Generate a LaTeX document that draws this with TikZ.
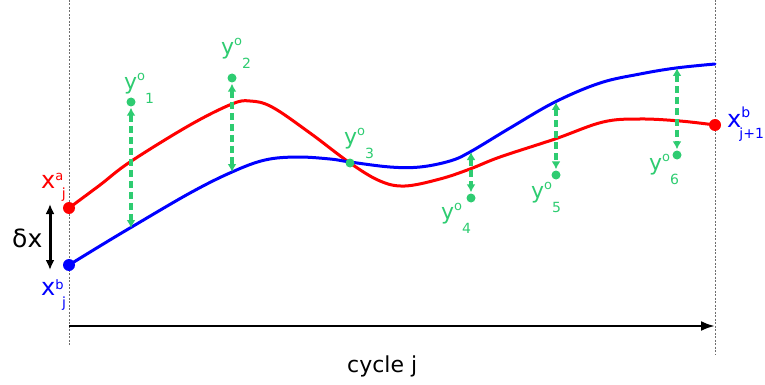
\documentclass[tikz,border=0pt]{standalone}
\usepackage{fontspec}
\setmainfont{DejaVu Sans}
\usetikzlibrary{arrows.meta}
\definecolor{obsgreen}{RGB}{46,204,113}
\definecolor{fgred}{RGB}{255,0,0}
\definecolor{bgblue}{RGB}{0,0,255}
\definecolor{guidegray}{RGB}{110,110,110}
\newcommand{\myfs}[1]{\fontsize{#1}{#1}\selectfont}
\newcommand{\yobs}[1]{{\myfs{22}y}\raisebox{9pt}{\myfs{13}o}\raisebox{-14pt}{\myfs{14}#1}}
\begin{document}
\begin{tikzpicture}[x=1pt,y=-1pt,
  guide/.style={draw=guidegray, line width=0.9pt, dash pattern=on 2pt off 1.5pt},
  timeaxis/.style={draw=black, line width=2.6pt, -{Latex[length=14pt,width=10pt]}},
  deltaarrow/.style={draw=black, line width=3pt, {Latex[length=10pt,width=9pt]}-{Latex[length=10pt,width=9pt]}},
  obsarrow/.style={draw=obsgreen, line width=3.6pt, dash pattern=on 7pt off 4pt,
    {Latex[length=8pt,width=9pt]}-{Latex[length=8pt,width=9pt]}},
  enddot/.style={circle, inner sep=0pt, minimum size=12pt},
  obsdot/.style={circle, fill=obsgreen, inner sep=0pt, minimum size=9pt},
  curve/.style={line width=3pt, line cap=round, line join=round},
  lab/.style={inner sep=0pt, anchor=base west},
]
\useasboundingbox (0,0) rectangle (765,385);

% guide lines
\coordinate (gLt) at (69,0);
\coordinate (gLb) at (69,345);
\coordinate (gRt) at (715,0);
\coordinate (gRb) at (715,355);
\draw[guide] (gLt) -- (gLb);
\draw[guide] (gRt) -- (gRb);

% time axis
\coordinate (axL) at (69,326);
\coordinate (axR) at (715,326);
\draw[timeaxis] (axL) -- (axR);
\node[lab] (cyc) at (347,372) {\myfs{22}cycle j};

% curve coordinates
\coordinate (rs) at (69,208);
\coordinate (r1) at (130,162);
\coordinate (re) at (715,125);
\coordinate (bs) at (69,265);
\coordinate (b1) at (130,228);
\coordinate (b2) at (232,172);
\coordinate (b3) at (350,162);
\coordinate (b4) at (470,152);
\coordinate (b5) at (555,102);
\coordinate (b6) at (676,68);
\coordinate (be) at (715,64);

% red curve (analysis)
\draw[curve, fgred] plot[smooth, tension=0.6] coordinates {
  (rs) (100,185) (r1) (190,125) (232,104) (250,101) (272,107) (310,133) (350,163)
  (380,181) (405,186) (440,179) (470,169) (500,157) (555,139) (603,122)
  (640,119) (680,121) (re)};
% blue curve (background)
\draw[curve, bgblue] plot[smooth, tension=0.6] coordinates {
  (bs) (100,246) (b1) (190,193) (b2) (265,160) (297,157) (330,159) (b3)
  (390,167) (420,167) (450,161) (b4) (510,128) (b5) (600,83) (640,74) (b6) (be)};

% end dots
\node[enddot, fill=fgred] (dra) at (rs) {};
\node[enddot, fill=bgblue] (dbb) at (bs) {};
\node[enddot, fill=fgred] (dre) at (re) {};

% delta x
\coordinate (dxT) at (50,204);
\coordinate (dxB) at (50,270);
\draw[deltaarrow] (dxT) -- (dxB);
\node[lab] (dx) at (12,247) {\myfs{25}δx};

% x labels
\node[lab, text=fgred] (xa) at (41,188) {{\myfs{24}x}\raisebox{8pt}{\myfs{13}a}\hspace{-1.5pt}\raisebox{-10pt}{\myfs{14}j}};
\node[lab, text=bgblue] (xb) at (41,295) {{\myfs{24}x}\raisebox{6pt}{\myfs{13}b}\hspace{-1.5pt}\raisebox{-12pt}{\myfs{14}j}};
\node[lab, text=bgblue] (xb1) at (727,128) {{\myfs{24}x}\rlap{\raisebox{10pt}{\myfs{14}b}}\hspace{-2pt}\raisebox{-11pt}{\myfs{14}j+1}};

% observations
\node[obsdot] (o1) at (131,102) {};
\node[obsdot] (o2) at (232,78) {};
\node[obsdot] (o3) at (350,163) {};
\node[obsdot] (o4) at (471,198) {};
\node[obsdot] (o5) at (556,175) {};
\node[obsdot] (o6) at (677,155) {};

\draw[obsarrow, shorten <=1pt] (o1.south) -- (o1 |- b1);
\draw[obsarrow, shorten <=1pt] (o2.south) -- (o2 |- b2);
\draw[obsarrow, shorten >=1pt] (o4 |- b4) -- (o4.north);
\draw[obsarrow, shorten >=1pt] (o5 |- b5) -- (o5.north);
\draw[obsarrow, shorten >=1pt] (o6 |- b6) -- (o6.north);

\node[lab, text=obsgreen] (l1) at (124,90) {\yobs{1}};
\node[lab, text=obsgreen] (l2) at (221,55) {\yobs{2}};
\node[lab, text=obsgreen] (l3) at (344,144) {\yobs{3}};
\node[lab, text=obsgreen] (l4) at (441,219) {\yobs{4}};
\node[lab, text=obsgreen] (l5) at (531,198) {\yobs{5}};
\node[lab, text=obsgreen] (l6) at (649,170) {\yobs{6}};
\end{tikzpicture}
\end{document}
